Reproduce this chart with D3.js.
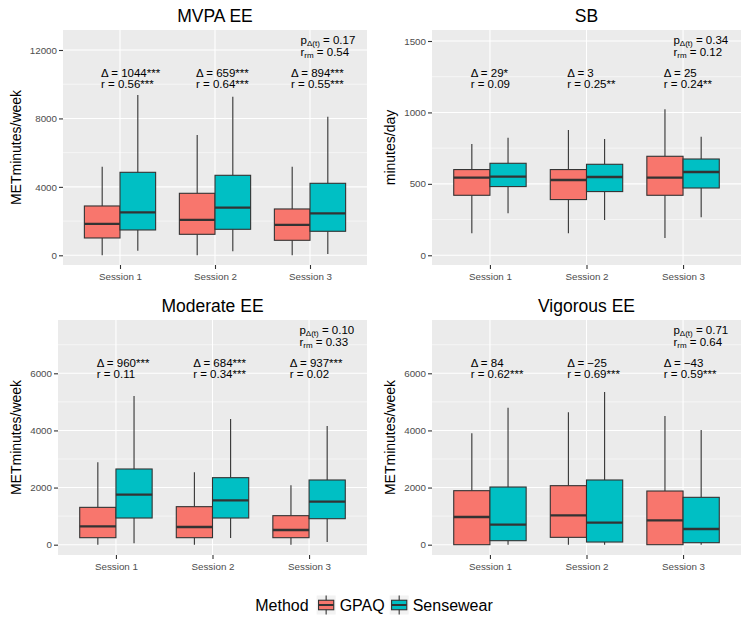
<!DOCTYPE html>
<html>
<head>
<meta charset="utf-8">
<script src="https://cdn.jsdelivr.net/npm/d3@7"></script>
<style>
  html, body { margin: 0; padding: 0; background: #ffffff; }
  svg { display: block; font-family: "Liberation Sans", Arial, sans-serif; }
</style>
</head>
<body>
<svg id="chart" width="748" height="630"></svg>
<script>
// ---------------- data ----------------
const sessions = ["Session 1", "Session 2", "Session 3"];
const methods = ["GPAQ", "Sensewear"];
const methodColors = ["#F8766D", "#00BFC4"];

// box stats per session: [lower whisker, Q1, median, Q3, upper whisker]
const mvpaGPAQ  = [[0, 1013, 1831, 2883, 5182], [0, 1227, 2065, 3624, 7033], [0, 877, 1773, 2708, 5182]];
const mvpaSense = [[273, 1481, 2513, 4851, 9371], [234, 1520, 2786, 4676, 9273], [78, 1403, 2455, 4208, 8104]];
const sbGPAQ    = [[154, 420, 543, 600, 779], [154, 390, 527, 600, 877], [121, 420, 543, 693, 1022]];
const sbSense   = [[294, 481, 551, 644, 823], [247, 446, 548, 637, 814], [266, 471, 583, 674, 830]];
const modGPAQ   = [[0, 245, 642, 1307, 2883], [0, 245, 619, 1331, 2533], [0, 245, 514, 1016, 2078]];
const modSense  = [[47, 934, 1751, 2650, 5206], [233, 934, 1552, 2346, 4401], [93, 910, 1506, 2265, 4156]];
const vigGPAQ   = [[0, 0, 969, 1891, 3899], [0, 257, 1027, 2066, 4634], [0, 0, 852, 1879, 4506]];
const vigSense  = [[0, 140, 700, 2019, 4797], [0, 93, 770, 2265, 5346], [0, 70, 549, 1658, 4015]];

const mvpaTicks = [0, 4000, 8000, 12000];
const sbTicks   = [0, 500, 1000, 1500];
const modTicks  = [0, 2000, 4000, 6000];
const vigTicks  = [0, 2000, 4000, 6000];

const mvpaDelta = ["1044***", "659***", "894***"];
const mvpaR     = ["0.56***", "0.64***", "0.55***"];
const sbDelta   = ["29*", "3", "25"];
const sbR       = ["0.09", "0.25**", "0.24**"];
const modDelta  = ["960***", "684***", "937***"];
const modR      = ["0.11", "0.34***", "0.02"];
const vigDelta  = ["84", "\u221225", "\u221243"];
const vigR      = ["0.62***", "0.69***", "0.59***"];

const pValues   = ["0.17", "0.34", "0.10", "0.71"];
const rrmValues = ["0.54", "0.12", "0.33", "0.64"];

const titles = ["MVPA EE", "SB", "Moderate EE", "Vigorous EE"];
const yLabels = ["METminutes/week", "minutes/day", "METminutes/week", "METminutes/week"];

// ---------------- layout ----------------
const panels = [
  { title: titles[0], ylab: yLabels[0], gpaq: mvpaGPAQ, sense: mvpaSense, ticks: mvpaTicks, delta: mvpaDelta, r: mvpaR, p: pValues[0], rrm: rrmValues[0],
    domain: [-567, 13169], left: 63, right: 367, top: 30, bottom: 265, cellX: 0, cellY: 0 },
  { title: titles[1], ylab: yLabels[1], gpaq: sbGPAQ, sense: sbSense, ticks: sbTicks, delta: sbDelta, r: sbR, p: pValues[1], rrm: rrmValues[1],
    domain: [-68, 1577], left: 432, right: 741, top: 30, bottom: 265, cellX: 374, cellY: 0 },
  { title: titles[2], ylab: yLabels[2], gpaq: modGPAQ, sense: modSense, ticks: modTicks, delta: modDelta, r: modR, p: pValues[2], rrm: rrmValues[2],
    domain: [-361, 7866], left: 58, right: 367, top: 320, bottom: 555, cellX: 0, cellY: 290 },
  { title: titles[3], ylab: yLabels[3], gpaq: vigGPAQ, sense: vigSense, ticks: vigTicks, delta: vigDelta, r: vigR, p: pValues[3], rrm: rrmValues[3],
    domain: [-361, 7866], left: 432, right: 741, top: 320, bottom: 555, cellX: 374, cellY: 290 }
];

const svg = d3.select("#chart");
const outline = "#333333";
const axisTextColor = "#4D4D4D";

panels.forEach(P => {
  const g = svg.append("g");
  const x = d3.scalePoint().domain(sessions).range([P.left, P.right]).padding(0.6);
  const y = d3.scaleLinear().domain(P.domain).range([P.bottom, P.top]);
  const step = x.step();
  const boxW = step * 0.375;

  // panel background
  g.append("rect").attr("x", P.left).attr("y", P.top)
    .attr("width", P.right - P.left).attr("height", P.bottom - P.top)
    .attr("fill", "#EBEBEB");

  // minor gridlines (midpoints between ticks)
  const tstep = P.ticks[1] - P.ticks[0];
  const minor = [];
  for (let v = P.ticks[0] - tstep / 2; v <= P.domain[1]; v += tstep) {
    if (v >= P.domain[0]) minor.push(v);
  }
  g.selectAll(".minor").data(minor).enter().append("line")
    .attr("x1", P.left).attr("x2", P.right)
    .attr("y1", d => y(d)).attr("y2", d => y(d))
    .attr("stroke", "#ffffff").attr("stroke-width", 0.55);
  // major gridlines
  g.selectAll(".majorY").data(P.ticks).enter().append("line")
    .attr("x1", P.left).attr("x2", P.right)
    .attr("y1", d => y(d)).attr("y2", d => y(d))
    .attr("stroke", "#ffffff").attr("stroke-width", 1.1);
  g.selectAll(".majorX").data(sessions).enter().append("line")
    .attr("x1", d => x(d)).attr("x2", d => x(d))
    .attr("y1", P.top).attr("y2", P.bottom)
    .attr("stroke", "#ffffff").attr("stroke-width", 1.1);

  // boxes
  [P.gpaq, P.sense].forEach((stats, mi) => {
    const off = (mi === 0 ? -1 : 1) * boxW / 2;
    stats.forEach((s, si) => {
      const cx = x(sessions[si]) + off;
      g.append("line").attr("x1", cx).attr("x2", cx)
        .attr("y1", y(s[3])).attr("y2", y(s[4]))
        .attr("stroke", outline).attr("stroke-width", 1.1);
      g.append("line").attr("x1", cx).attr("x2", cx)
        .attr("y1", y(s[0])).attr("y2", y(s[1]))
        .attr("stroke", outline).attr("stroke-width", 1.1);
      g.append("rect").attr("x", cx - boxW / 2).attr("y", y(s[3]))
        .attr("width", boxW).attr("height", Math.max(0, y(s[1]) - y(s[3])))
        .attr("fill", methodColors[mi]).attr("stroke", outline).attr("stroke-width", 1.1);
      g.append("line").attr("x1", cx - boxW / 2).attr("x2", cx + boxW / 2)
        .attr("y1", y(s[2])).attr("y2", y(s[2]))
        .attr("stroke", outline).attr("stroke-width", 2.3);
    });
  });

  // axes
  const ya = g.append("g").attr("transform", `translate(${P.left},0)`)
    .call(d3.axisLeft(y).tickValues(P.ticks).tickSize(4).tickPadding(2).tickFormat(d3.format("d")));
  ya.select(".domain").remove();
  ya.selectAll("line").attr("stroke", outline).attr("stroke-width", 1.1);
  ya.selectAll("text").attr("fill", axisTextColor).style("font-size", "9.8px")
    .style("font-family", "'Liberation Sans', Arial, sans-serif");

  const xa = g.append("g").attr("transform", `translate(0,${P.bottom})`)
    .call(d3.axisBottom(x).tickSize(4).tickPadding(4));
  xa.select(".domain").remove();
  xa.selectAll("line").attr("stroke", outline).attr("stroke-width", 1.1);
  xa.selectAll("text").attr("fill", axisTextColor).style("font-size", "9.8px")
    .style("font-family", "'Liberation Sans', Arial, sans-serif");

  // titles
  g.append("text").attr("x", (P.left + P.right) / 2).attr("y", P.cellY + 21.5)
    .attr("text-anchor", "middle").style("font-size", "17.5px").attr("fill", "#000")
    .text(P.title);
  g.append("text")
    .attr("transform", `translate(${P.cellX + 21},${(P.top + P.bottom) / 2}) rotate(-90)`)
    .attr("text-anchor", "middle").style("font-size", "14px").attr("fill", "#000")
    .text(P.ylab);

  // annotations
  const fs = "11.5px";
  sessions.forEach((s, si) => {
    const ax = x(s) - 0.2 * step;
    g.append("text").attr("x", ax).attr("y", P.top + 46.5)
      .style("font-size", fs).attr("fill", "#000")
      .text("\u0394 = " + P.delta[si]);
    g.append("text").attr("x", ax).attr("y", P.top + 58)
      .style("font-size", fs).attr("fill", "#000")
      .text("r = " + P.r[si]);
  });
  const px = x(sessions[2]) - 0.1 * step;
  const pt = g.append("text").attr("x", px).attr("y", P.top + 14)
    .style("font-size", fs).attr("fill", "#000");
  pt.append("tspan").text("p");
  pt.append("tspan").attr("dy", 2).style("font-size", "8px").text("\u0394(t)");
  pt.append("tspan").attr("dy", -2).text(" = " + P.p);
  const rt = g.append("text").attr("x", px).attr("y", P.top + 25.5)
    .style("font-size", fs).attr("fill", "#000");
  rt.append("tspan").text("r");
  rt.append("tspan").attr("dy", 2).style("font-size", "8px").text("rm");
  rt.append("tspan").attr("dy", -2).text(" = " + P.rrm);
});

// ---------------- legend ----------------
const leg = svg.append("g");
const legY = 605;
const keyS = 19;
const fsLeg = "16px";
let cursor = 0;
const tTitle = leg.append("text").attr("x", 0).attr("y", legY).attr("dy", "0.36em")
  .style("font-size", fsLeg).attr("fill", "#000").text("Method");
cursor += tTitle.node().getComputedTextLength() + 8;
methods.forEach((m, i) => {
  const kg = leg.append("g").attr("transform", `translate(${cursor},${legY - keyS / 2})`);
  kg.append("rect").attr("width", keyS).attr("height", keyS).attr("fill", "#F2F2F2");
  kg.append("line").attr("x1", keyS / 2).attr("x2", keyS / 2).attr("y1", 0).attr("y2", keyS)
    .attr("stroke", outline).attr("stroke-width", 1.1);
  kg.append("rect").attr("x", keyS * 0.1).attr("y", keyS * 0.25)
    .attr("width", keyS * 0.8).attr("height", keyS * 0.5)
    .attr("fill", methodColors[i]).attr("stroke", outline).attr("stroke-width", 1.1);
  kg.append("line").attr("x1", keyS * 0.1).attr("x2", keyS * 0.9).attr("y1", keyS / 2).attr("y2", keyS / 2)
    .attr("stroke", outline).attr("stroke-width", 2);
  cursor += keyS + 4;
  const t = leg.append("text").attr("x", cursor).attr("y", legY).attr("dy", "0.36em")
    .style("font-size", fsLeg).attr("fill", "#000").text(m);
  cursor += t.node().getComputedTextLength() + (i < methods.length - 1 ? 5 : 0);
});
leg.attr("transform", `translate(${374 - cursor / 2},0)`);
</script>
</body>
</html>
